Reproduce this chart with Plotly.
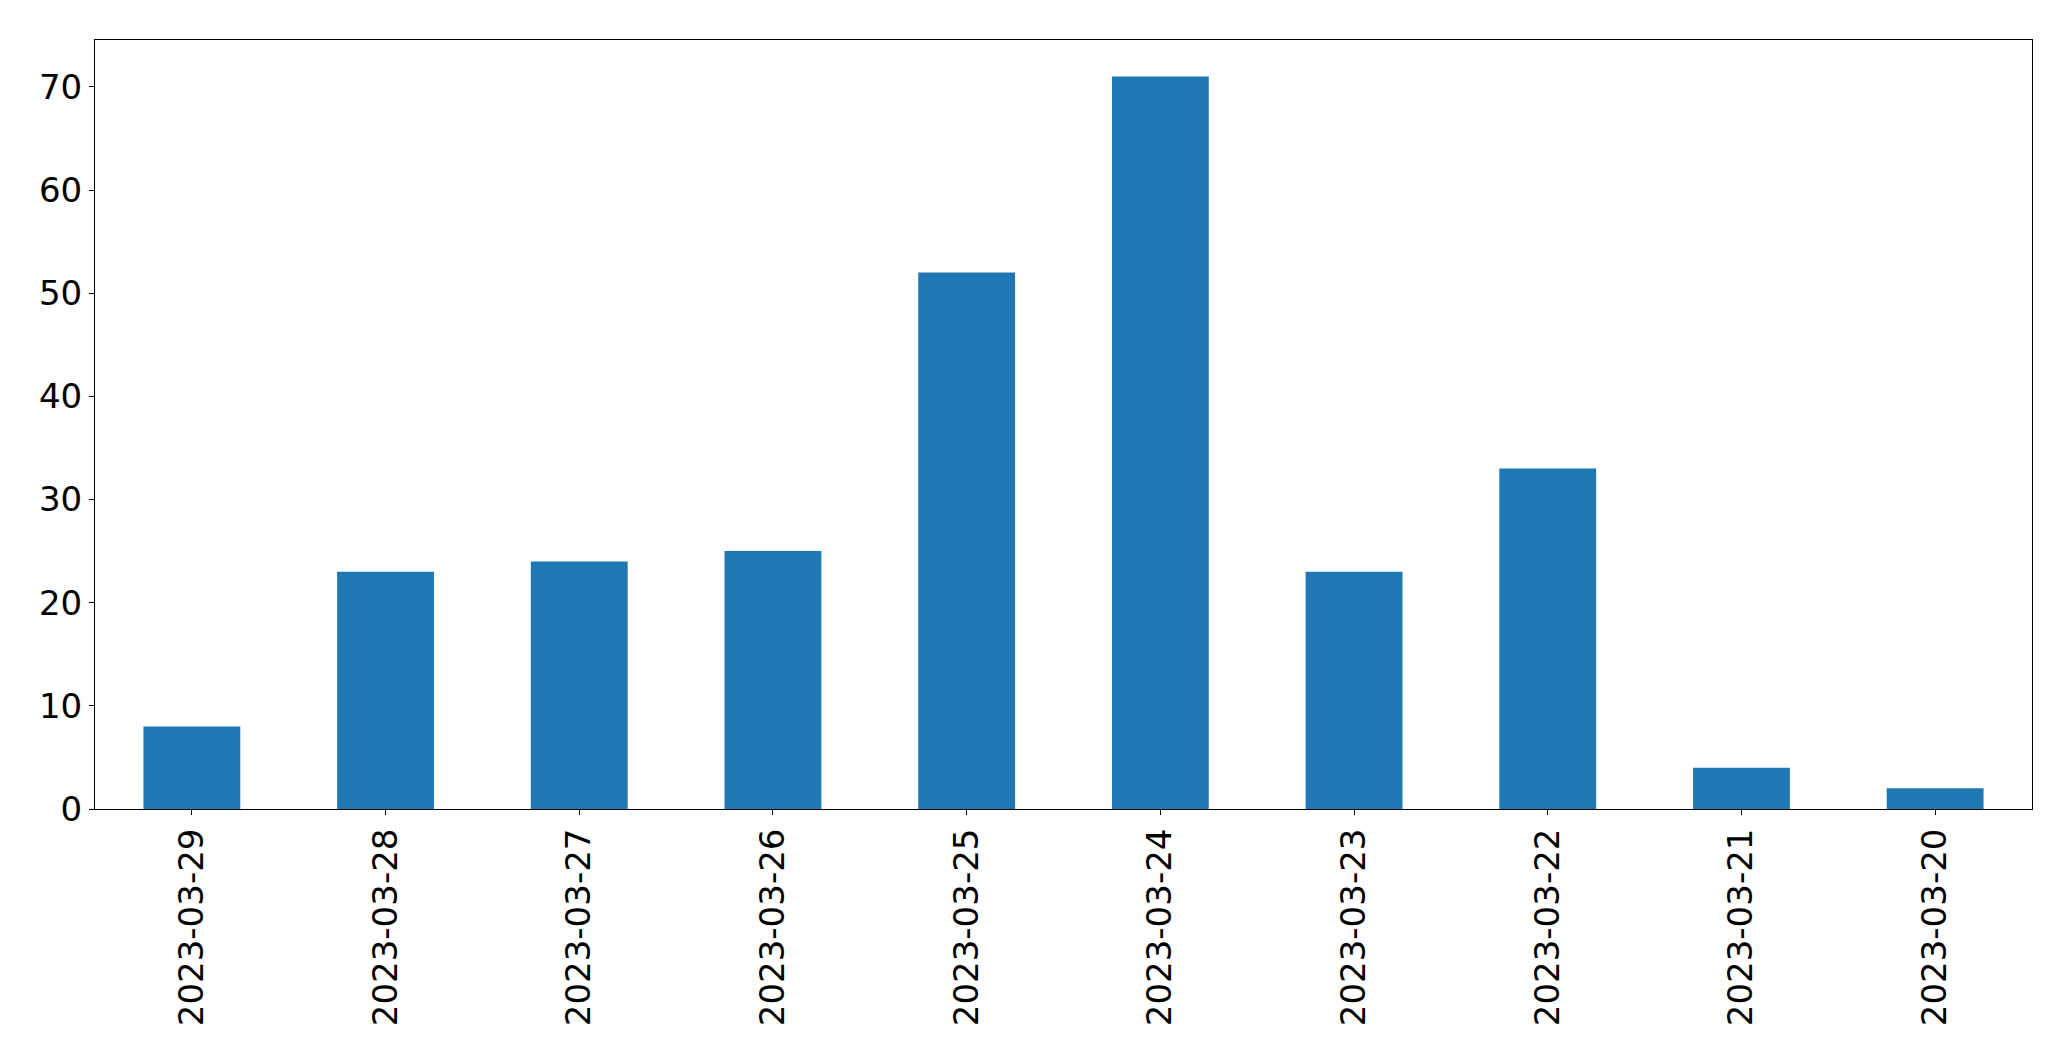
import plotly.graph_objects as go

dates = ["2023-03-29", "2023-03-28", "2023-03-27", "2023-03-26", "2023-03-25",
         "2023-03-24", "2023-03-23", "2023-03-22", "2023-03-21", "2023-03-20"]
counts = [8, 23, 24, 25, 52, 71, 23, 33, 4, 2]

fig = go.Figure(go.Bar(x=dates, y=counts, marker=dict(color="#1f77b4", line=dict(width=0)),
                       width=0.5))

# page body has an 8px default margin; compensate so the plot area lands where the reference has it
fig.update_layout(
    template="none",
    width=2055, height=1045,
    margin=dict(l=86.5, r=31.3, t=31.5, b=243.7, autoexpand=False),
    paper_bgcolor="white", plot_bgcolor="white",
    font=dict(family="DejaVu Sans", size=34, color="black"),
    showlegend=False,
    bargap=0.5,
)
fig.update_xaxes(
    type="category", range=[-0.5, 9.5], automargin=False,
    showline=True, linecolor="black", linewidth=1, mirror=True,
    ticks="outside", ticklen=5, tickwidth=1, tickcolor="black",
    tickangle=-90, showgrid=False, zeroline=False,
)
fig.update_yaxes(
    range=[0, 74.55], tickvals=[0, 10, 20, 30, 40, 50, 60, 70], automargin=False,
    showline=True, linecolor="black", linewidth=1, mirror=True,
    ticks="outside", ticklen=5, tickwidth=1, tickcolor="black",
    showgrid=False, zeroline=False,
)

fig.write_html("out.html")
